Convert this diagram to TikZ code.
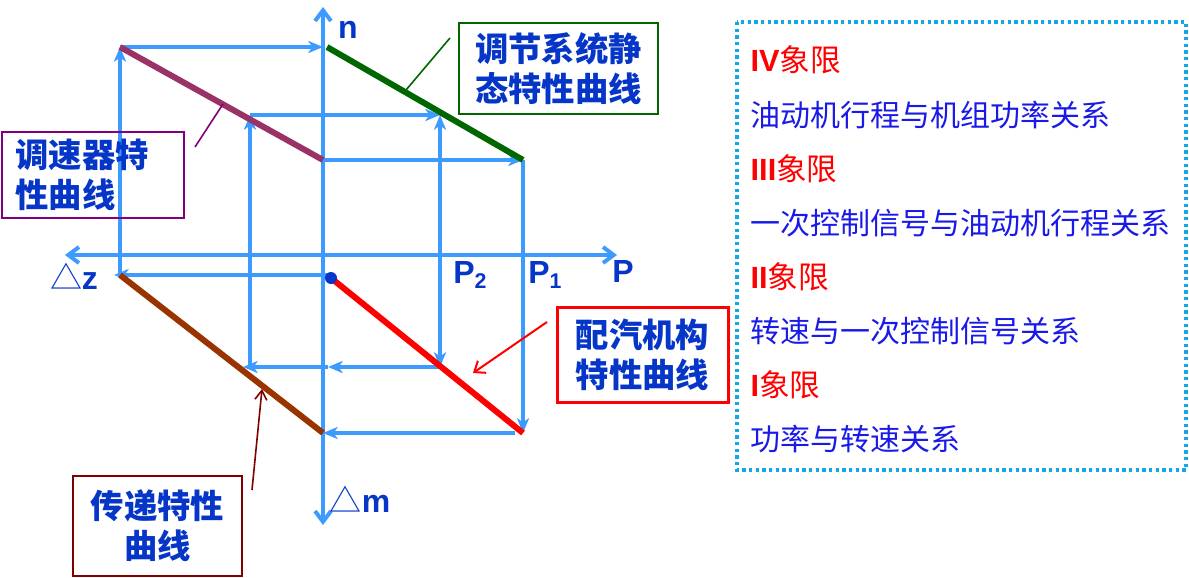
\documentclass[tikz,border=0pt]{standalone}
\usepackage{fontspec}
\setmainfont{Liberation Sans}
\newfontfamily\cjk{Noto Sans CJK SC}
\usetikzlibrary{arrows.meta}
\definecolor{flowblue}{HTML}{3D9BFF}
\definecolor{labelblue}{HTML}{0636C8}
\definecolor{panelblue}{HTML}{1A1AE8}
\definecolor{panelcyan}{HTML}{12A8E8}
\definecolor{govpurple}{HTML}{993366}
\definecolor{boxpurple}{HTML}{800080}
\definecolor{statgreen}{HTML}{006600}
\definecolor{transbrown}{HTML}{993300}
\definecolor{boxbrown}{HTML}{800000}
\definecolor{valvered}{HTML}{FF0000}

\newcommand{\boxcn}{\cjk\bfseries\fontsize{25pt}{30pt}\selectfont}
\newcommand{\subdigit}[1]{\raisebox{-0.35ex}{\fontsize{16pt}{16pt}\selectfont #1}}

\begin{document}
\begin{tikzpicture}[
  x=0.75pt,
  y=-0.75pt,
  axis/.style={flowblue, line width=3pt,
    {Straight Barb[length=8pt,width=12pt]}-{Straight Barb[length=8pt,width=12pt]}},
  flow/.style={flowblue, line width=3pt, -{Stealth[length=11pt,width=9pt,inset=3pt]}},
  flowboth/.style={flowblue, line width=3pt,
    {Stealth[length=11pt,width=9pt,inset=3pt]}-{Stealth[length=11pt,width=9pt,inset=3pt]}},
  curve/.style={line width=4.5pt},
  tag/.style={labelblue, font=\bfseries\fontsize{24pt}{24pt}\selectfont},
  lbox/.style={draw, line width=1.5pt, inner sep=0pt, text=labelblue, font=\boxcn},
  quad/.style={anchor=west, text=valvered, font=\bfseries\fontsize{23pt}{23pt}\selectfont},
  rel/.style={anchor=west, text=panelblue, font=\cjk\fontsize{22.5pt}{22.5pt}\selectfont}
]
  \useasboundingbox (0,0) rectangle (1189,578);

  \coordinate (ntip) at (323,7);
  \coordinate (mtip) at (323,525);
  \coordinate (ztip) at (65,255);
  \coordinate (ptip) at (617,255);

  \coordinate (gov1) at (120,47);
  \coordinate (gov2) at (323,160);
  \coordinate (sta1) at (327,47);
  \coordinate (sta2) at (523,160);
  \coordinate (val1) at (331,278);
  \coordinate (val2) at (523,433);
  \coordinate (tra1) at (120,275);
  \coordinate (tra2) at (323,433);

  \coordinate (nmax) at (323,47);
  \coordinate (valback) at (515,433);
  \coordinate (zstart) at (331,275);
  \coordinate (zback) at (114,275);

  \coordinate (q1) at (250,367);
  \coordinate (q2) at (250,115);
  \coordinate (q3) at (440,115);
  \coordinate (q4) at (440,367);
  \coordinate (q5) at (328,367);
  \coordinate (q6) at (243,367);

  \draw[axis] (mtip) -- (ntip);
  \draw[axis] (ztip) -- (ptip);

  \draw[flow] (tra1) -- (gov1);
  \draw[flow] (gov1) -- (nmax);
  \draw[flow] (gov2) -- (sta2);
  \draw[flow] (sta2) -- (val2);
  \draw[flow] (valback) -- (tra2);
  \draw[flow] (zstart) -- (zback);

  \draw[flow] (q1) -- (q2);
  \draw[flow] (q2) -- (q3);
  \draw[flowboth] (q3) -- (q4);
  \draw[flow] (q4) -- (q5);
  \draw[flow] (q5) -- (q6);

  \draw[curve, govpurple] (gov1) -- (gov2);
  \draw[curve, statgreen] (sta1) -- (sta2);
  \draw[curve, valvered] (val1) -- (val2);
  \draw[curve, transbrown] (tra1) -- (tra2);
  \fill[labelblue] (val1) circle (4.5pt);

  \node[tag] (lbln) at (348,30) {n};
  \node[tag] (lblp) at (623,271) {P};
  \node[tag] (lblp2) at (470,275) {P\subdigit{2}};
  \node[tag] (lblp1) at (545,275) {P\subdigit{1}};
  \node[tag] (lblz) at (74,276) {{\cjk\mdseries △}z};
  \node[tag] (lblm) at (360,499) {{\cjk\mdseries △}m};

  \node[lbox, draw=boxpurple, text width=116pt, inner xsep=10pt,
    minimum height=64.5pt, align=left] (govbox) at (93,175) {调速器特\\性曲线};
  \node[lbox, draw=statgreen, minimum width=149.25pt, minimum height=68.25pt,
    align=center] (stabox) at (558.5,68.5) {调节系统静\\态特性曲线};
  \node[lbox, draw=valvered, line width=2.25pt, minimum width=128.25pt,
    minimum height=71.25pt, align=center] (valbox) at (642.5,354.5) {配汽机构\\特性曲线};
  \node[lbox, draw=boxbrown, minimum width=126.75pt, minimum height=75pt,
    align=center] (trabox) at (157.5,526) {传递特性\\曲线};

  \coordinate (govfrom) at (195,147);
  \coordinate (govto) at (223,104);
  \coordinate (stafrom) at (450,38);
  \coordinate (stato) at (406,90);
  \coordinate (valfrom) at (547,322);
  \coordinate (valto) at (473,373);
  \coordinate (trafrom) at (252,490);
  \coordinate (trato) at (262,389);

  \draw[boxpurple, line width=1.2pt] (govfrom) -- (govto);
  \draw[statgreen, line width=1.2pt] (stafrom) -- (stato);
  \draw[valvered, line width=1.5pt, -{Straight Barb[length=7pt,width=11pt]}] (valfrom) -- (valto);
  \draw[boxbrown, line width=1.2pt, -{Straight Barb[length=7pt,width=9pt]}] (trafrom) -- (trato);

  \draw[panelcyan, line width=2.5pt, dash pattern=on 2.5pt off 2.5pt]
    (737,22) rectangle (1186,470);

  \node[quad] (quad4) at (746,60) {IV{\cjk\mdseries 象限}};
  \node[rel] (rel4) at (746,115) {油动机行程与机组功率关系};
  \node[quad] (quad3) at (746,169) {III{\cjk\mdseries 象限}};
  \node[rel] (rel3) at (746,223) {一次控制信号与油动机行程关系};
  \node[quad] (quad2) at (746,277) {II{\cjk\mdseries 象限}};
  \node[rel] (rel2) at (746,331) {转速与一次控制信号关系};
  \node[quad] (quad1) at (746,385) {I{\cjk\mdseries 象限}};
  \node[rel] (rel1) at (746,439) {功率与转速关系};
\end{tikzpicture}
\end{document}
